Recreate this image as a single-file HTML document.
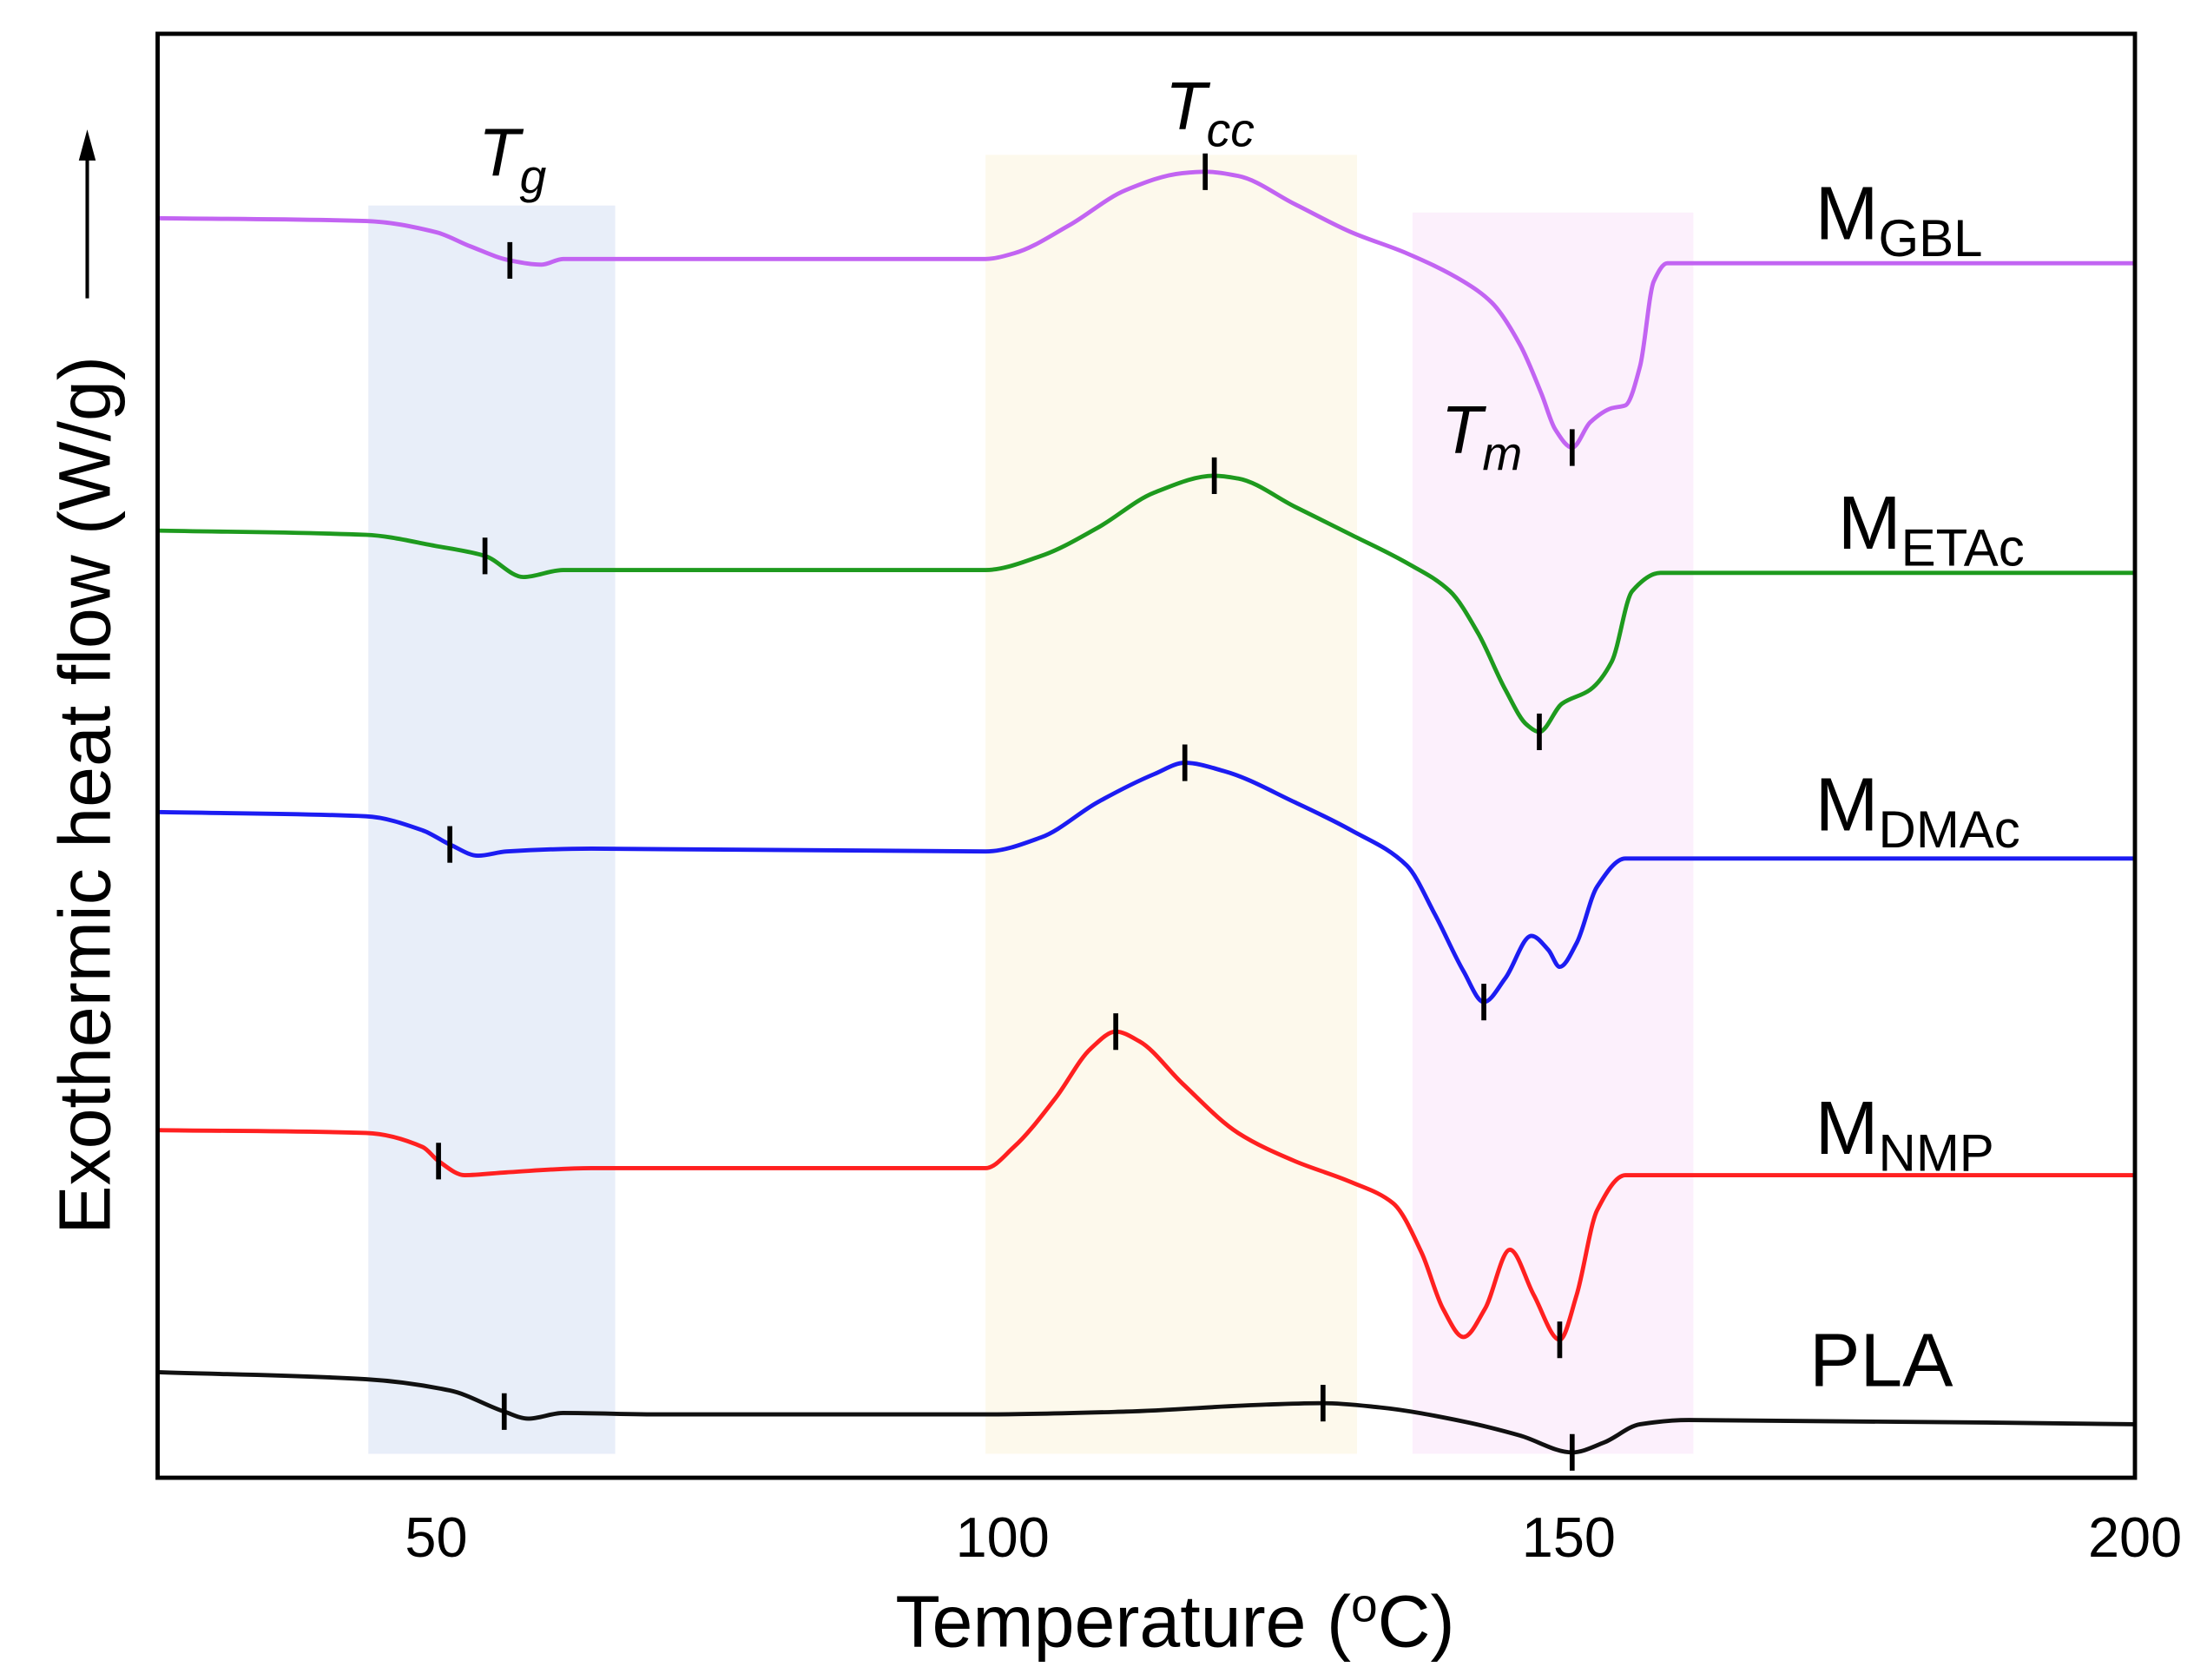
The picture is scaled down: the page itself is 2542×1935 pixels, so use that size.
<!DOCTYPE html>
<html><head><meta charset="utf-8"><style>
html,body{margin:0;padding:0;background:#fff;}
svg{display:block;}
text{font-family:"Liberation Sans",Arial,sans-serif;fill:#000;}
</style></head><body>
<svg id="chart" width="2542" height="1935" viewBox="0 0 1568.2 1193.7" xmlns="http://www.w3.org/2000/svg">
<g id="bands"></g>
<g id="curves"></g>
<g id="marks"></g>
<rect x="112" y="24" width="1405" height="1026" fill="none" stroke="#000" stroke-width="3"/>
<g id="xticks"></g>
<text x="835" y="1170" font-size="52" text-anchor="middle">Temperature (<tspan font-size="34" dy="-18">o</tspan><tspan dy="18">C)</tspan></text>
<text x="0" y="0" font-size="52" text-anchor="middle" transform="translate(78,565) rotate(-90)">Exothermic heat flow (W/g)</text>
<g>
<line x1="62" y1="212" x2="62" y2="105" stroke="#000" stroke-width="2.5"/>
<polygon points="62,92 56,114 68,114" fill="#000"/>
</g>
<text x="340" y="125" font-size="48" font-style="italic">T<tspan font-size="34" dy="12">g</tspan></text>
<text x="828" y="92" font-size="48" font-style="italic">T<tspan font-size="34" dy="12">cc</tspan></text>
<text x="1024" y="322" font-size="48" font-style="italic">T<tspan font-size="34" dy="12">m</tspan></text>
<g id="labels"></g>
</svg>
<script>
const seriesNames = ["GBL","ETAc","DMAc","NMP","PLA"];
const seriesColors = ["#c264f2","#1e9a1e","#1c1cf2","#ff2020","#111111"];
const gblT = [25.4,43.8,50,53,56.5,59.3,61.2,98.5,101,105.9,110.9,115.9,117.9,120.8,125.8,130.8,135.7,140.7,143.2,145.7,147.6,148.8,150.3,151.9,153.8,155.0,156.3,157.5,158.7,160.6,200];
const gblV = [8.95,8.93,8.85,8.75,8.65,8.62,8.66,8.66,8.70,8.90,9.15,9.27,9.28,9.25,9.05,8.85,8.70,8.50,8.35,8.05,7.70,7.45,7.32,7.50,7.60,7.62,7.90,8.50,8.63,8.63,8.63];
const etaT = [25.4,43.8,50,54.3,57.7,61.2,98.5,103.4,108.4,113.4,118.7,120.8,125.8,130.8,135.7,139.5,142.0,144.4,146.3,147.4,149.4,151.9,153.8,155.6,158.1,200];
const etaV = [6.73,6.70,6.62,6.55,6.40,6.45,6.45,6.55,6.75,7.00,7.12,7.10,6.90,6.70,6.50,6.30,6.00,5.60,5.35,5.30,5.50,5.60,5.80,6.30,6.43,6.43];
const dmaT = [25.4,43.8,48.8,51.2,53.7,56.2,63.7,98.5,103.4,108.4,113.4,116.1,119.6,125.8,130.8,135.7,138.2,140.7,142.5,144.4,146.7,148.2,149.2,150.7,152.5,155.0,200];
const dmaV = [4.73,4.70,4.60,4.50,4.42,4.45,4.47,4.45,4.55,4.80,5.00,5.08,5.02,4.80,4.60,4.35,4.00,3.60,3.38,3.55,3.85,3.75,3.63,3.80,4.20,4.40,4.40];
const nmpT = [25.4,43.8,48.8,50.2,52.5,56.2,63.7,98.5,101,104.7,107.8,110.0,112.1,115.9,120.8,125.8,130.8,134.5,137.0,138.9,140.7,142.6,144.8,146.9,149.2,150.7,152.5,155.0,200];
const nmpV = [2.47,2.45,2.35,2.25,2.15,2.17,2.20,2.20,2.35,2.70,3.05,3.17,3.10,2.80,2.45,2.25,2.10,1.95,1.60,1.20,1.00,1.20,1.62,1.30,0.98,1.30,1.90,2.15,2.15];
const plaT = [25.4,43.8,51.2,56.0,58.1,61.2,69.9,98.5,110.9,123.3,128.3,133.3,140.7,145.7,150.3,153.1,156.3,160.6,200];
const plaV = [0.75,0.70,0.62,0.47,0.42,0.46,0.45,0.45,0.47,0.52,0.53,0.50,0.40,0.30,0.18,0.25,0.38,0.41,0.38];
const tgT = [56.5,54.3,51.2,50.2,56.0];
const tgV = [8.65,6.55,4.50,2.25,0.47];
const tccT = [117.9,118.7,116.1,110.0,128.3];
const tccV = [9.28,7.12,5.08,3.17,0.53];
const tmT = [150.3,147.4,142.5,149.2,150.3];
const tmV = [7.32,5.30,3.38,0.98,0.18];
const xTicks = [50,100,150,200];
const bandStart = [44.0,98.5,136.2];
const bandEnd = [65.8,131.3,161.0];
const bandTop = [9.04,9.40,8.99];
const bandBottom = [0.17,0.17,0.17];
const bandColors = ["#e8eef9","#fdf9ec","#fcf0fc"];
const labelT = [172,174,172,172,172];
const labelV = [8.80,6.60,4.60,2.30,0.65];

const NS="http://www.w3.org/2000/svg";
function xs(t){return 310+(t-50)*8.047;}
function ys(v){return 1050-v*100;}
function mk(tag,parent){const e=document.createElementNS(NS,tag);document.getElementById(parent).appendChild(e);return e;}

for(let i=0;i<bandStart.length;i++){
  const r=mk('rect','bands');
  
  
  r.setAttribute('x',xs(bandStart[i]));r.setAttribute('width',xs(bandEnd[i])-xs(bandStart[i]));
  r.setAttribute('y',ys(bandTop[i]));r.setAttribute('height',ys(bandBottom[i])-ys(bandTop[i]));
  r.setAttribute('fill',bandColors[i]);
}
const allT=[gblT,etaT,dmaT,nmpT,plaT], allV=[gblV,etaV,dmaV,nmpV,plaV];
function smoothPath(T,V){
  const x=T.map(xs), y=V.map(ys), n=x.length;
  const d=[];for(let i=0;i<n-1;i++)d.push((y[i+1]-y[i])/(x[i+1]-x[i]));
  const m=new Array(n);
  m[0]=d[0];m[n-1]=d[n-2];
  for(let i=1;i<n-1;i++){
    if(d[i-1]*d[i]<=0)m[i]=0;
    else{const w1=2*(x[i+1]-x[i])+(x[i]-x[i-1]),w2=(x[i+1]-x[i])+2*(x[i]-x[i-1]);m[i]=(w1+w2)/(w1/d[i-1]+w2/d[i]);}
  }
  let p='M'+x[0]+','+y[0];
  for(let i=0;i<n-1;i++){
    const h=(x[i+1]-x[i])/3;
    p+=' C'+(x[i]+h)+','+(y[i]+m[i]*h)+' '+(x[i+1]-h)+','+(y[i+1]-m[i+1]*h)+' '+x[i+1]+','+y[i+1];
  }
  return p;
}
for(let s=0;s<5;s++){
  const path=mk('path','curves');
  
  
  path.setAttribute('d',smoothPath(allT[s],allV[s]));
  path.setAttribute('fill','none');path.setAttribute('stroke',seriesColors[s]);path.setAttribute('stroke-width','3');
  path.setAttribute('stroke-linejoin','round');
  const groups=[[tgT,tgV,'tg'],[tccT,tccV,'tcc'],[tmT,tmV,'tm']];
  for(const g of groups){
    const l=mk('line','marks');
    
    
    const xx=xs(g[0][s]),yy=ys(g[1][s]);
    l.setAttribute('x1',xx);l.setAttribute('x2',xx);l.setAttribute('y1',yy-13);l.setAttribute('y2',yy+13);
    l.setAttribute('stroke','#000');l.setAttribute('stroke-width','3.5');
  }
  const tx=mk('text','labels');
  
  
  tx.setAttribute('x',xs(labelT[s])-2);tx.setAttribute('y',ys(labelV[s]));
  tx.setAttribute('font-size','54');
  if(seriesNames[s]==='PLA'){tx.textContent='PLA';tx.setAttribute('x',xs(labelT[s])-6);}
  else{
    tx.textContent='M';
    const sub=document.createElementNS(NS,'tspan');
    sub.setAttribute('font-size','37');sub.setAttribute('dy','12');
    sub.textContent=seriesNames[s];tx.appendChild(sub);
  }
}
for(let i=0;i<xTicks.length;i++){
  const t=mk('text','xticks');
  
  
  t.setAttribute('x',xs(xTicks[i]));t.setAttribute('y',1106);
  t.setAttribute('font-size','40');t.setAttribute('text-anchor','middle');
  t.textContent=xTicks[i];
}
</script>
</body></html>
